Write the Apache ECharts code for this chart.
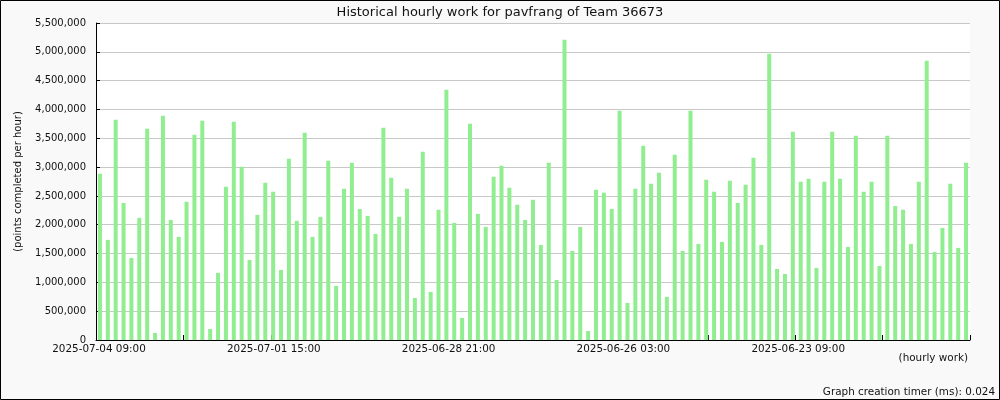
<!DOCTYPE html>
<html>
<head>
<meta charset="utf-8">
<script src="https://cdn.jsdelivr.net/npm/echarts@6/dist/echarts.min.js"></script>
<style>
html,body{margin:0;padding:0;background:#f9f9f9;}
#c{width:1000px;height:400px;}
</style>
</head>
<body>
<div id="c"></div>
<script>
const titleText = 'Historical hourly work for pavfrang of Team 36673';
const yAxisName = '(points completed per hour)';
const xAxisName = '(hourly work)';
const footerText = 'Graph creation timer (ms): 0.024';

// first bar time and step between bars (hours), newest first
const startTime = '2025-07-04T09:00:00Z';
const stepHours = 3;

// x tick labels (one every second tick of the 10 evenly spaced ticks)
const tickLabels = ['2025-07-04 09:00', '2025-07-01 15:00', '2025-06-28 21:00', '2025-06-26 03:00', '2025-06-23 09:00'];
const tickCount = 10;

const values = [
  2883000, 1737000, 3821000, 2379000, 1424000, 2119000, 3665000, 122000, 3891000, 2084000,
  1789000, 2397000, 3561000, 3804000, 191000, 1164000, 2657000, 3786000, 3005000, 1389000,
  2171000, 2727000, 2571000, 1216000, 3144000, 2067000, 3595000, 1789000, 2136000, 3109000,
  938000, 2623000, 3074000, 2275000, 2154000, 1841000, 3682000, 2814000, 2136000, 2623000,
  729000, 3265000, 834000, 2258000, 4342000, 2032000, 382000, 3752000, 2188000, 1963000,
  2831000, 3022000, 2640000, 2345000, 2084000, 2432000, 1650000, 3074000, 1042000, 5211000,
  1546000, 1963000, 156000, 2605000, 2553000, 2275000, 3977000, 643000, 2623000, 3369000,
  2709000, 2900000, 747000, 3213000, 1546000, 3977000, 1667000, 2779000, 2571000, 1702000,
  2762000, 2379000, 2692000, 3161000, 1650000, 4967000, 1233000, 1146000, 3613000, 2744000,
  2796000, 1251000, 2744000, 3613000, 2796000, 1615000, 3543000, 2571000, 2744000, 1285000,
  3543000, 2327000, 2258000, 1667000, 2744000, 4846000, 1528000, 1945000, 2709000, 1598000,
  3074000
];

function pad(n){return (n<10?'0':'')+n;}
const t0 = Date.parse(startTime);
const categories = values.map((v,i)=>{
  const d = new Date(t0 - i*stepHours*3600*1000);
  return d.getUTCFullYear()+'-'+pad(d.getUTCMonth()+1)+'-'+pad(d.getUTCDate())+' '+pad(d.getUTCHours())+':'+pad(d.getUTCMinutes());
});

const font = 'DejaVu Sans';
const chart = echarts.init(document.getElementById('c'), null, {renderer:'canvas'});
chart.setOption({
  backgroundColor:'#f9f9f9',
  animation:false,
  title:{
    text:titleText, left:'center', top:1,
    textStyle:{fontFamily:font,fontSize:13,fontWeight:'normal',color:'#111'}
  },
  grid:{left:96,right:30,top:23,bottom:60,show:true,backgroundColor:'#ffffff',borderWidth:0,containLabel:false,outerBoundsMode:'none'},
  xAxis:[{
    type:'category',
    data:categories,
    boundaryGap:true,
    axisLine:{lineStyle:{color:'#000',width:1}},
    axisTick:{show:false},
    axisLabel:{show:false},
    splitLine:{show:false}
  },{
    type:'value',
    position:'bottom',
    min:0,max:tickCount,interval:1,
    axisLine:{show:false},
    axisTick:{show:true,inside:true,length:5,lineStyle:{color:'#000'}},
    axisLabel:{margin:4,padding:[0,0,0,6],fontFamily:font,fontSize:10.4,color:'#111',
      showMinLabel:true,showMaxLabel:true,
      formatter:(v)=>{const k=Math.round(v); return (k%2===0 && tickLabels[k/2]!==undefined)? tickLabels[k/2] : '';}},
    splitLine:{show:false}
  }],
  yAxis:{
    type:'value',
    min:0,max:5500000,interval:500000,
    name:yAxisName,nameLocation:'middle',nameGap:73,nameRotate:90,
    nameTextStyle:{fontFamily:font,fontSize:10,color:'#111'},
    axisLine:{show:true,lineStyle:{color:'#000',width:1}},
    axisTick:{show:true,inside:true,length:4,lineStyle:{color:'#000'}},
    axisLabel:{margin:10,fontFamily:font,fontSize:10,color:'#111',
      formatter:v=>v.toLocaleString('en-US')},
    splitLine:{show:true,lineStyle:{color:'#c8c8c8',width:1}}
  },
  series:[{
    type:'bar',
    xAxisIndex:0,
    data:values,
    barWidth:4,
    itemStyle:{color:'#90ee90'},
    silent:true
  }],
  graphic:[
    {type:'rect',shape:{x:0.5,y:0.5,width:999,height:399},style:{fill:'none',stroke:'#000',lineWidth:1},silent:true,z:100},
    {type:'text',right:32,top:353,style:{text:xAxisName,font:'10.4px "DejaVu Sans"',fill:'#111'}},
    {type:'text',right:5,top:387,style:{text:footerText,font:'10.4px "DejaVu Sans"',fill:'#111'}}
  ]
});
</script>
</body>
</html>
